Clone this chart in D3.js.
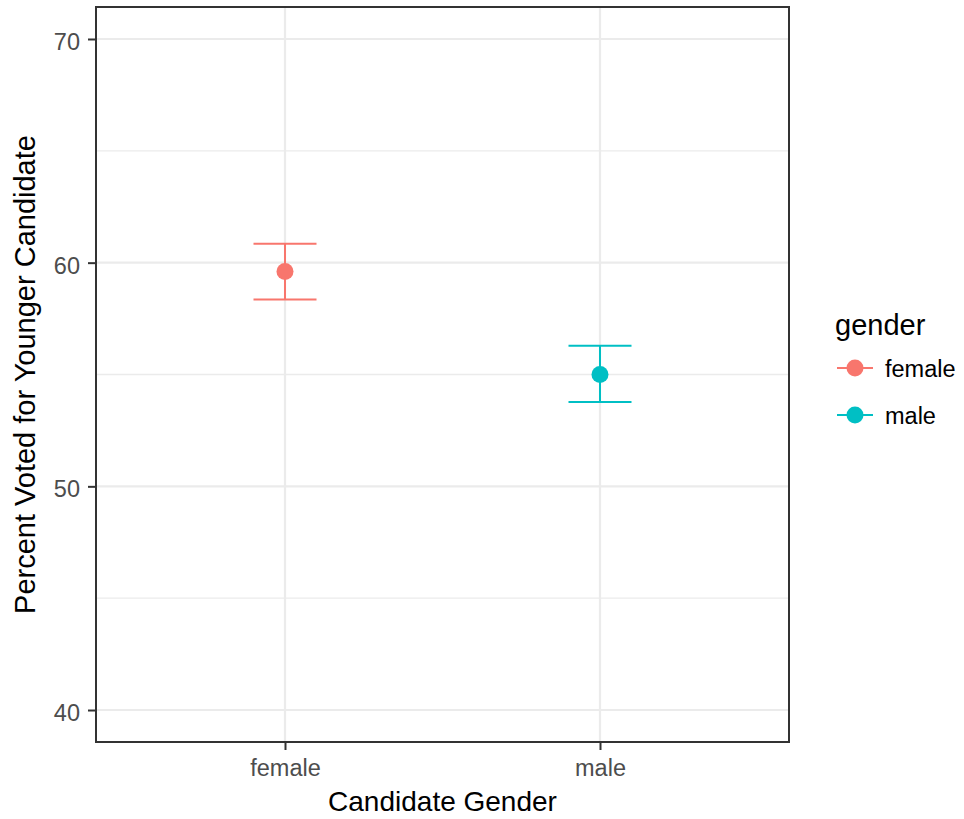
<!doctype html>
<html>
<head>
<meta charset="utf-8">
<title>Percent Voted for Younger Candidate</title>
<style>
  body { margin: 0; background: #fff; }
  svg { display: block; font-family: "Liberation Sans", Arial, sans-serif; }
</style>
</head>
<body>
<div id="chart"></div>
<script src="https://cdn.jsdelivr.net/npm/d3@7"></script>
<script>
// data
var categories = ["female", "male"];
var means = [59.6, 55.0];
var lower = [58.35, 53.77];
var upper = [60.85, 56.28];
var colors = ["#F8766D", "#00BFC4"];
var yTicks = [40, 50, 60, 70];
var yMinor = [45, 55, 65];

var width = 964, height = 819;
var panel = {left: 96, right: 789, top: 7, bottom: 742};

var svg = d3.select("#chart").append("svg")
  .attr("width", width)
  .attr("height", height);

var x = d3.scalePoint()
  .domain(categories)
  .range([panel.left, panel.right])
  .padding(0.6);

var y = d3.scaleLinear()
  .domain([38.57, 71.43])
  .range([panel.bottom, panel.top]);

var capHalf = x.step() * 0.1;

// grid
var grid = svg.append("g");
grid.selectAll(".minor")
  .data(yMinor)
  .enter().append("line")
  .attr("x1", panel.left).attr("x2", panel.right)
  .attr("y1", function(d) { return y(d); })
  .attr("y2", function(d) { return y(d); })
  .attr("stroke", "#EBEBEB")
  .attr("stroke-width", 1.3);
grid.selectAll(".major")
  .data(yTicks)
  .enter().append("line")
  .attr("x1", panel.left).attr("x2", panel.right)
  .attr("y1", function(d) { return y(d); })
  .attr("y2", function(d) { return y(d); })
  .attr("stroke", "#EBEBEB")
  .attr("stroke-width", 2.2);
grid.selectAll(".vmajor")
  .data(categories)
  .enter().append("line")
  .attr("y1", panel.top).attr("y2", panel.bottom)
  .attr("x1", function(d) { return x(d); })
  .attr("x2", function(d) { return x(d); })
  .attr("stroke", "#EBEBEB")
  .attr("stroke-width", 2.2);

// error bars
var bars = svg.append("g")
  .selectAll("g")
  .data(categories)
  .enter().append("g")
  .attr("stroke", function(d, i) { return colors[i]; })
  .attr("stroke-width", 2);

bars.append("line")
  .attr("x1", function(d) { return x(d); })
  .attr("x2", function(d) { return x(d); })
  .attr("y1", function(d, i) { return y(lower[i]); })
  .attr("y2", function(d, i) { return y(upper[i]); });
bars.append("line")
  .attr("x1", function(d) { return x(d) - capHalf; })
  .attr("x2", function(d) { return x(d) + capHalf; })
  .attr("y1", function(d, i) { return y(upper[i]); })
  .attr("y2", function(d, i) { return y(upper[i]); });
bars.append("line")
  .attr("x1", function(d) { return x(d) - capHalf; })
  .attr("x2", function(d) { return x(d) + capHalf; })
  .attr("y1", function(d, i) { return y(lower[i]); })
  .attr("y2", function(d, i) { return y(lower[i]); });

// points
svg.append("g")
  .selectAll("circle")
  .data(categories)
  .enter().append("circle")
  .attr("cx", function(d) { return x(d); })
  .attr("cy", function(d, i) { return y(means[i]); })
  .attr("r", 8.5)
  .attr("fill", function(d, i) { return colors[i]; });

// panel border
svg.append("rect")
  .attr("x", panel.left).attr("y", panel.top)
  .attr("width", panel.right - panel.left)
  .attr("height", panel.bottom - panel.top)
  .attr("fill", "none")
  .attr("stroke", "#333333")
  .attr("stroke-width", 2);

// axes
var yAxis = svg.append("g")
  .attr("transform", "translate(" + panel.left + ",0)")
  .call(d3.axisLeft(y).tickValues(yTicks).tickSize(8).tickPadding(8));
var xAxis = svg.append("g")
  .attr("transform", "translate(0," + panel.bottom + ")")
  .call(d3.axisBottom(x).tickSize(8).tickPadding(9));

[yAxis, xAxis].forEach(function(a) {
  a.select(".domain").remove();
  a.selectAll(".tick line").attr("stroke", "#333333").attr("stroke-width", 2);
  a.selectAll(".tick text")
    .attr("fill", "#4D4D4D")
    .attr("font-size", "23.5px")
    .attr("font-family", "Liberation Sans, Arial, sans-serif");
});
yAxis.selectAll(".tick text").attr("dy", "0.45em");

// axis titles
svg.append("text")
  .attr("x", (panel.left + panel.right) / 2)
  .attr("y", 811)
  .attr("text-anchor", "middle")
  .attr("font-size", "28px")
  .attr("fill", "#000")
  .text("Candidate Gender");

svg.append("text")
  .attr("transform", "translate(35," + (panel.top + panel.bottom) / 2 + ") rotate(-90)")
  .attr("text-anchor", "middle")
  .attr("font-size", "29px")
  .attr("fill", "#000")
  .text("Percent Voted for Younger Candidate");

// legend
var legend = svg.append("g");
legend.append("text")
  .attr("x", 835).attr("y", 335)
  .attr("font-size", "29px")
  .attr("fill", "#000")
  .text("gender");

var keys = legend.selectAll(".key")
  .data(categories)
  .enter().append("g")
  .attr("transform", function(d, i) { return "translate(0," + (368 + i * 47) + ")"; });
keys.append("line")
  .attr("x1", 837).attr("x2", 873)
  .attr("stroke", function(d, i) { return colors[i]; })
  .attr("stroke-width", 2);
keys.append("circle")
  .attr("cx", 855).attr("r", 8.5)
  .attr("fill", function(d, i) { return colors[i]; });
keys.append("text")
  .attr("x", 885).attr("y", 9)
  .attr("font-size", "23.5px")
  .attr("fill", "#000")
  .text(function(d) { return d; });
</script>
</body>
</html>
